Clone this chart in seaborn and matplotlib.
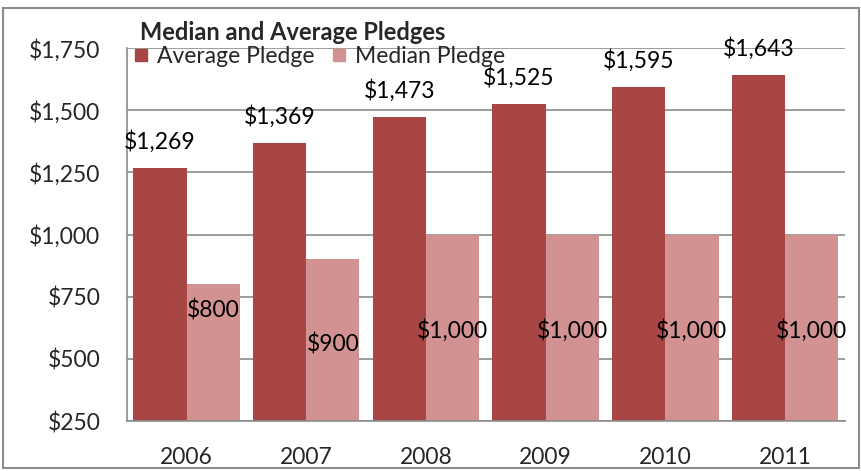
import pandas as pd
import numpy as np
import matplotlib.pyplot as plt
import seaborn as sns
from matplotlib.patches import Rectangle
from matplotlib.lines import Line2D

years = ['2006', '2007', '2008', '2009', '2010', '2011']
average_pledge = [1269, 1369, 1473, 1525, 1595, 1643]
median_pledge = [800, 900, 1000, 1000, 1000, 1000]
# where Excel dropped the median labels (data units, label centre)
median_label_y = [696, 556, 616, 616, 616, 616]

series_names = ['Average Pledge', 'Median Pledge']
colors = ['#A84646', '#D39292']

df = pd.DataFrame({
    'year': years * 2,
    'value': average_pledge + median_pledge,
    'series': [series_names[0]] * len(years) + [series_names[1]] * len(years),
})

sns.set_style('white')
plt.rcParams['font.family'] = ['Lato', 'DejaVu Sans']
FS = 16.5

fig = plt.figure(figsize=(8.62, 4.71), dpi=100)
ax = fig.add_axes([0.147, 0.106, 0.833, 0.792])

sns.barplot(data=df, x='year', y='value', hue='series', palette=colors,
            width=0.89, saturation=1, linewidth=0, ax=ax, legend=False, zorder=2)

ax.set_ylim(250, 1750)
ax.set_xlim(-0.5, len(years) - 0.5)
ax.set_yticks(np.arange(250, 1751, 250))
ax.set_yticklabels([f'${v:,}' for v in range(250, 1751, 250)], fontsize=FS)
ax.yaxis.grid(True, color='#8c8c8c', linewidth=1.2, zorder=0)
ax.set_axisbelow(True)
ax.set_xlabel('')
ax.set_ylabel('')

ax.set_xticks(range(len(years)))
ax.set_xticklabels(years, fontsize=FS)
ax.set_xticks(np.arange(-0.5, len(years), 1), minor=True)
ax.tick_params(axis='x', which='major', length=0, pad=19)
ax.tick_params(axis='x', which='minor', length=6, color='#8c8c8c', direction='out')
ax.tick_params(axis='y', length=6, color='#8c8c8c', direction='out', pad=13)

for side in ['top', 'right']:
    ax.spines[side].set_visible(False)
for side in ['left', 'bottom']:
    ax.spines[side].set_color('#8c8c8c')
    ax.spines[side].set_linewidth(1.2)

# data labels
avg_bars = ax.patches[:len(years)]
med_bars = ax.patches[len(years):2 * len(years)]
for bar, v in zip(avg_bars, average_pledge):
    ax.annotate(f'${v:,}', (bar.get_x() + bar.get_width() / 2, v),
                xytext=(0, 19), textcoords='offset points',
                ha='center', va='center', fontsize=FS, color='black',
                annotation_clip=False)
for bar, v, ly in zip(med_bars, median_pledge, median_label_y):
    ax.text(bar.get_x() + bar.get_width() / 2, ly, f'${v:,}',
            ha='center', va='center', fontsize=FS, color='black')

handles = [Line2D([0], [0], marker='s', linestyle='', markersize=9,
                  markerfacecolor=c, markeredgecolor=c) for c in colors]
ax.legend(handles, series_names, loc='upper left', bbox_to_anchor=(-0.004, 1.03),
          frameon=False, fontsize=FS, ncol=2, handlelength=0.7,
          handletextpad=0.35, columnspacing=0.7, borderaxespad=0)

fig.text(140 / 862, 1 - 33 / 471, 'Median and Average Pledges',
         fontsize=17, fontweight='bold', va='center', ha='left')

fig.patches.append(Rectangle((0.004, 0.006), 0.992, 0.978, transform=fig.transFigure,
                             fill=False, edgecolor='#8c8c8c', linewidth=1.5))

fig.savefig('out.png', dpi=100)
